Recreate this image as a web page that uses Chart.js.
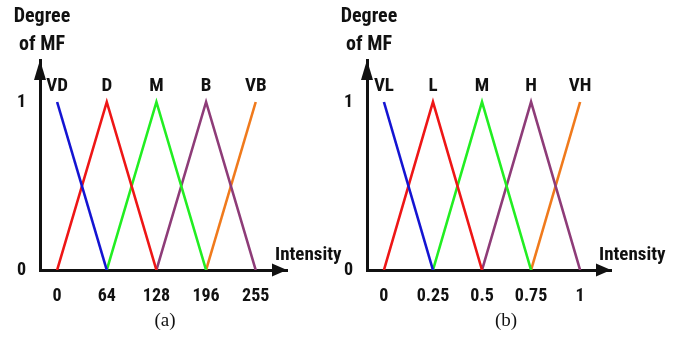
<!DOCTYPE html>
<html>
<head>
<meta charset="utf-8">
<script src="https://cdn.jsdelivr.net/npm/chart.js@4.4.1/dist/chart.umd.min.js"></script>
<style>
  body { margin: 0; background: #fff; }
  .wrap { position: absolute; top: 0; height: 337px; }
  #wa { left: 0; width: 346px; }
  #wb { left: 330px; width: 362px; }
</style>
</head>
<body>
<div class="wrap" id="wa"><canvas id="chartA"></canvas></div>
<div class="wrap" id="wb"><canvas id="chartB"></canvas></div>
<script>
// tick labels
var ticksA = ["0", "64", "128", "196", "255"];
var ticksB = ["0", "0.25", "0.5", "0.75", "1"];
// membership function names
var namesA = ["VD", "D", "M", "B", "VB"];
var namesB = ["VL", "L", "M", "H", "VH"];
// degree of membership at each tick position (null = not defined)
var mf1 = [1, 0, null, null, null];
var mf2 = [0, 1, 0, null, null];
var mf3 = [null, 0, 1, 0, null];
var mf4 = [null, null, 0, 1, 0];
var mf5 = [null, null, null, 0, 1];
var colors = ["#1414d2", "#ee1616", "#22ee22", "#8e3c78", "#f07a1c"];

var FONT = "'Roboto Condensed', 'Liberation Sans Narrow', 'Liberation Sans', sans-serif";

function toPoints(vals) {
  var out = [];
  vals.forEach(function (v, i) { if (v !== null) out.push({ x: i, y: v }); });
  return out;
}

var decor = {
  id: 'decor',
  afterDraw: function (chart, args, o) {
    var c = chart.ctx, a = chart.chartArea;
    var xs = chart.scales.x, ys = chart.scales.y;
    c.save();
    c.fillStyle = '#111';
    // arrowheads
    c.beginPath();
    c.moveTo(a.left, a.top);
    c.lineTo(a.left - 6, a.top + 20);
    c.lineTo(a.left + 6, a.top + 20);
    c.closePath();
    c.fill();
    c.beginPath();
    c.moveTo(a.right, a.bottom);
    c.lineTo(a.right - 15, a.bottom - 6.5);
    c.lineTo(a.right - 15, a.bottom + 6.5);
    c.closePath();
    c.fill();
    // texts
    c.font = 'bold 20px ' + FONT;
    c.textAlign = 'center';
    c.textBaseline = 'middle';
    c.fillText('Degree', a.left + 2, 17);
    c.fillText('of MF', a.left + 2, 45);
    c.font = 'bold 19px ' + FONT;
    o.names.forEach(function (n, i) {
      c.fillText(n, xs.getPixelForValue(i), ys.getPixelForValue(1) - 16);
    });
    c.textAlign = 'left';
    c.fillText('Intensity', a.right - 12, a.bottom - 15);
    c.font = '19px "Liberation Serif", "Times New Roman", serif';
    c.textAlign = 'center';
    c.fillText(o.caption, o.capX, 321);
    c.restore();
  }
};

function makeChart(id, tickLabels, names, caption, capX, axisLeft, padRight) {
  var series = [mf1, mf2, mf3, mf4, mf5];
  return new Chart(document.getElementById(id), {
    type: 'line',
    data: {
      datasets: series.map(function (s, i) {
        return {
          label: names[i],
          data: toPoints(s),
          borderColor: colors[i],
          borderWidth: 2.6,
          pointRadius: 0,
          fill: false,
          tension: 0
        };
      })
    },
    options: {
      responsive: true,
      maintainAspectRatio: false,
      animation: false,
      layout: { padding: { left: 0, right: padRight, top: 60, bottom: 0 } },
      plugins: {
        legend: { display: false },
        tooltip: { enabled: false },
        decor: { names: names, caption: caption, capX: capX }
      },
      scales: {
        x: {
          type: 'linear',
          min: -0.345,
          max: 4.63,
          grid: { display: false, drawTicks: false },
          border: { color: '#111', width: 3 },
          afterBuildTicks: function (s) {
            s.ticks = tickLabels.map(function (t, i) { return { value: i }; });
          },
          afterFit: function (s) { s.height = 67; },
          ticks: {
            color: '#111',
            padding: 16,
            maxRotation: 0,
            autoSkip: false,
            font: { family: FONT, size: 18, weight: 'bold' },
            callback: function (v) { return tickLabels[v]; }
          }
        },
        y: {
          min: 0,
          max: 1.25,
          grid: { display: false, drawTicks: false },
          border: { color: '#111', width: 3 },
          afterBuildTicks: function (s) { s.ticks = [{ value: 0 }, { value: 1 }]; },
          afterFit: function (s) { s.width = axisLeft; },
          ticks: {
            color: '#111',
            padding: 14,
            font: { family: FONT, size: 18, weight: 'bold' }
          }
        }
      }
    },
    plugins: [decor]
  });
}

makeChart('chartA', ticksA, namesA, '(a)', 165, 40, 59);
makeChart('chartB', ticksB, namesB, '(b)', 176, 37, 81);
</script>
</body>
</html>
